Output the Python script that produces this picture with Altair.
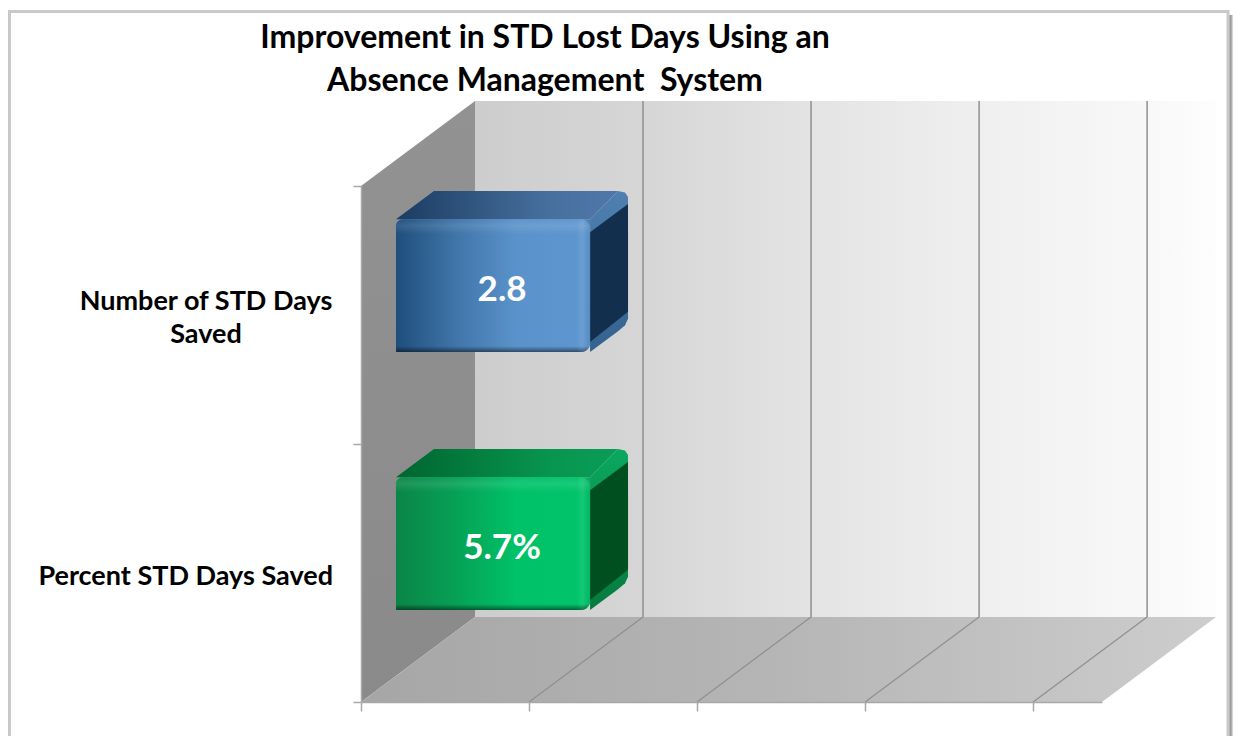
import altair as alt
import pandas as pd

title_lines = ["Improvement in STD Lost Days Using an", "Absence Management \u00a0System"]
categories = ["Percent STD Days Saved", "Number of STD Days Saved"]
value_labels = ["5.7%", "2.8"]
bar_lengths = [1.155, 1.155]
axis_ticks_x = [0, 1, 2, 3, 4]
axis_ticks_y = [0, 1, 2]
X_MAX = 4.41
Y_MAX = 2

PX = 1 / 168.03   # one pixel in x units
PY = 1 / 258.0    # one pixel in y units
DX = 114 * PX     # oblique depth offset
DY = 85 * PY
D0, D1 = 0.307, 0.64
LOW, HIGH = 0.255, 0.77

FONT = "Lato"
xs = alt.Scale(domain=[0, X_MAX], nice=False, zero=False)
ys = alt.Scale(domain=[0, Y_MAX], nice=False, zero=False)
GREY = "#a8a8a8"


def grad(stops, horizontal=True):
    return alt.Gradient(
        gradient="linear",
        stops=[alt.GradientStop(offset=o, color=c) for o, c in stops],
        x1=0, x2=1 if horizontal else 0, y1=0, y2=0 if horizontal else 1,
    )


def rect(df, **kw):
    return alt.Chart(df).mark_rect(**kw).encode(
        x=alt.X("x:Q", scale=xs, axis=None), x2="x2:Q",
        y=alt.Y("y:Q", scale=ys, axis=None), y2="y2:Q",
    )


def varea(rows, fill):
    df = pd.DataFrame(rows, columns=["x", "y", "y2"])
    return alt.Chart(df).mark_area(color=fill, line=False, interpolate="linear").encode(
        x=alt.X("x:Q", scale=xs, axis=None),
        y=alt.Y("y:Q", scale=ys, axis=None), y2="y2:Q",
    )


def harea(rows, fill):
    df = pd.DataFrame(rows, columns=["y", "x", "x2"])
    return alt.Chart(df).mark_area(color=fill, orient="horizontal", line=False, interpolate="linear").encode(
        y=alt.Y("y:Q", scale=ys, axis=None),
        x=alt.X("x:Q", scale=xs, axis=None), x2="x2:Q",
    )


def slant(rows, color, width):
    df = pd.DataFrame(rows, columns=["x", "y", "x2", "y2"])
    return alt.Chart(df).mark_rule(color=color, strokeWidth=width).encode(
        x=alt.X("x:Q", scale=xs, axis=None), x2="x2:Q",
        y=alt.Y("y:Q", scale=ys, axis=None), y2="y2:Q",
    )


# Axes (real ticks and domain lines, no labels)
axes = alt.Chart(pd.DataFrame({"x": [0.0], "y": [0.0]})).mark_point(opacity=0).encode(
    x=alt.X("x:Q", scale=xs, axis=alt.Axis(values=axis_ticks_x, labels=False, title=None, grid=False,
                                           tickColor=GREY, domainColor=GREY, tickSize=9, tickWidth=1.5,
                                           domainWidth=1.5, zindex=1)),
    y=alt.Y("y:Q", scale=ys, axis=alt.Axis(values=axis_ticks_y, labels=False, title=None, grid=False,
                                           tickColor=GREY, domainColor=GREY, tickSize=8, tickWidth=1.5,
                                           domainWidth=1.5, zindex=1)),
)

# Page frame and its shadow, placed in pixels relative to the plot
frame = alt.Chart(pd.DataFrame({"k": [0]})).mark_rect(fill="white", stroke="#c9c9c9", strokeWidth=3).encode(
    x=alt.value(-351.5), x2=alt.value(867), y=alt.value(-174.5), y2=alt.value(600))
shadow = alt.Chart(pd.DataFrame({"k": [0]})).mark_rect(
    color=grad([(0, "#8f8f8f"), (0.5, "#a5a5a5"), (1, "#e8e8e8")])).encode(
    x=alt.value(868.5), x2=alt.value(872), y=alt.value(-171), y2=alt.value(600))

# Back wall, left wall, floor
back = rect(pd.DataFrame({"x": [DX], "x2": [X_MAX + DX], "y": [DY], "y2": [Y_MAX + DY]}),
            color=grad([(0, "#cdcdcd"), (0.23, "#d6d6d6"), (0.46, "#e4e4e4"), (0.68, "#efefef"),
                        (0.91, "#f8f8f8"), (1, "#fdfdfd")]))
wall = varea([(0, 0, Y_MAX), (DX, DY, Y_MAX + DY)],
             grad([(0, "#929292"), (1, "#8a8a8a")], horizontal=False))
floor = harea([(0, 0, X_MAX), (DY, DX, X_MAX + DX)],
              grad([(0, "#a6a6a6"), (0.5, "#b6b6b6"), (1, "#cdcdcd")]))
wall_lines = slant([(v + DX, DY, v + DX, Y_MAX + DY) for v in axis_ticks_x[1:]], "#8f8f8f", 1.5)
floor_lines = slant([(v, 0, v + DX, DY) for v in axis_ticks_x[1:]], "#8f8f8f", 1.2)

palettes = [
    dict(front=[(0, "#0b8547"), (0.3, "#06a055"), (0.62, "#00c268"), (1, "#00c46b")],
         top=[(0, "#00652f"), (0.7, "#07964f"), (1, "#0a9c58")],
         bevel="#0aa860", bevel_dark="#067a3e", side="#00501f"),
    dict(front=[(0, "#1f4e7c"), (0.3, "#3f74a8"), (0.62, "#5a93cb"), (1, "#5e97d0")],
         top=[(0, "#1a3c62"), (0.7, "#48709f"), (1, "#4f78a8")],
         bevel="#4f80b0", bevel_dark="#34628e", side="#122f4e"),
]

R = dict(cornerRadiusTopLeft=7, cornerRadiusTopRight=9, cornerRadiusBottomRight=9, cornerRadiusBottomLeft=1)

bars = []
for i, (length, pal) in enumerate(zip(bar_lengths, palettes)):
    lo, hi = i + LOW, i + HIGH
    fx0, fy0 = D0 * DX, D0 * DY
    bx0, by0 = D1 * DX, D1 * DY
    fx1, bx1 = fx0 + length, bx0 + length

    top = harea([(hi + fy0, fx0, fx1), (hi + by0, bx0, bx1 - 10 * PX)], grad(pal["top"]))
    side_outer = varea([(fx1, lo + fy0, hi + fy0),
                        (bx1 - 10 * PX, lo + by0 - 7.4 * PY, hi + by0),
                        (bx1 - 3 * PX, lo + by0 - 1.5 * PY, hi + by0 - 1.5 * PY),
                        (bx1, lo + by0 + 5 * PY, hi + by0 - 6 * PY)],
                       grad([(0, pal["bevel"]), (1, pal["bevel_dark"])], horizontal=False))
    side_inner = varea([(fx1, lo + fy0 + 10 * PY, hi + fy0 - 13 * PY),
                        (bx1, lo + by0 + 12 * PY, hi + by0 - 13 * PY)], pal["side"])
    front_df = pd.DataFrame({"x": [fx0], "x2": [fx1], "y": [lo + fy0], "y2": [hi + fy0]})
    under = rect(front_df, color=pal["bevel"], cornerRadiusBottomRight=9, cornerRadiusBottomLeft=1,
                 cornerRadiusTopLeft=7)
    front = rect(front_df, color=grad(pal["front"]), **R)
    sheen = rect(front_df,
                 color=grad([(0, "rgba(255,255,255,0.02)"), (0.05, "rgba(255,255,255,0.10)"),
                             (0.11, "rgba(255,255,255,0)"), (0.955, "rgba(0,0,0,0)"),
                             (1, "rgba(0,0,0,0.5)")], horizontal=False), **R)
    rim = rect(front_df,
               color=grad([(0, "rgba(255,255,255,0)"), (0.93, "rgba(255,255,255,0)"),
                           (0.96, "rgba(255,255,255,0.08)"), (1, "rgba(0,0,0,0.08)")]), **R)
    bars += [top, side_outer, side_inner, under, front, sheen, rim]

value_df = pd.DataFrame({
    "x": [D0 * DX + l / 2 for l in bar_lengths],
    "y": [i + (LOW + HIGH) / 2 + D0 * DY for i in range(len(categories))],
    "t": value_labels,
})
values = alt.Chart(value_df).mark_text(font=FONT, fontWeight="bold", fontSize=35, color="white",
                                       dx=9, dy=4, baseline="middle", align="center").encode(
    x=alt.X("x:Q", scale=xs, axis=None), y=alt.Y("y:Q", scale=ys, axis=None), text="t:N")

label_base = dict(font=FONT, fontWeight="bold", fontSize=27, color="black", baseline="middle")
labels = [
    alt.Chart(pd.DataFrame({"t": [categories[0]], "y": [0.485]})).mark_text(
        align="right", **label_base).encode(
        x=alt.value(-28), y=alt.Y("y:Q", scale=ys, axis=None), text="t:N"),
    alt.Chart(pd.DataFrame({"t": ["Number of STD Days\nSaved"], "y": [1.552]})).mark_text(
        align="center", lineBreak="\n", lineHeight=33, **label_base).encode(
        x=alt.value(-155), y=alt.Y("y:Q", scale=ys, axis=None), text="t:N"),
]

title_text = alt.Chart(pd.DataFrame({"t": ["\n".join(title_lines)]})).mark_text(
    font=FONT, fontWeight="bold", fontSize=32, color="black", align="center", baseline="middle",
    lineBreak="\n", lineHeight=43).encode(x=alt.value(184), y=alt.value(-148), text="t:N")

chart = alt.layer(
    frame, shadow, back, wall_lines, wall, floor, floor_lines, axes, *bars, values, *labels, title_text
).resolve_axis(x="independent", y="independent").properties(
    width=741, height=516,
    padding={"left": 353, "top": 178, "right": 131, "bottom": 34},
    autosize=alt.AutoSizeParams(type="none"),
    background="white",
).configure_view(stroke=None)

chart.save("out.html", embed_options={"renderer": "svg", "actions": False})
